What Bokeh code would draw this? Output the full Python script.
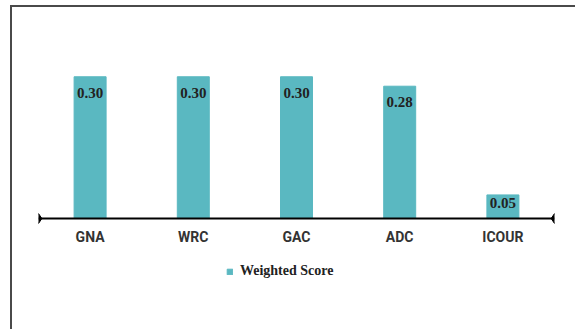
from bokeh.plotting import figure
from bokeh.models import ColumnDataSource, Range1d, FactorRange, Legend, LegendItem
from bokeh.core.properties import value
from bokeh.embed import file_html
from bokeh.resources import INLINE

categories = ["GNA", "WRC", "GAC", "ADC", "ICOUR"]
scores = [0.30, 0.30, 0.30, 0.28, 0.05]
labels = ["0.30", "0.30", "0.30", "0.28", "0.05"]
series_name = "Weighted Score"

BAR = "#5ab8c1"

src = ColumnDataSource(dict(
    cat=categories,
    score=scores,
    label=labels,
    off=[16 if s > 0.1 else 8 for s in scores],
))

p = figure(
    x_range=FactorRange(*categories, range_padding=0),
    y_range=Range1d(-0.1459, 0.40),
    width=565, height=324,
    min_border_left=26, min_border_right=23,
    min_border_top=22, min_border_bottom=44,
    output_backend="svg", toolbar_location=None,
    background_fill_color="white", border_fill_color="white",
)
p.outline_line_color = None
p.grid.visible = False
p.yaxis.visible = False
p.styles = {"margin-left": "12px", "margin-top": "7px",
            "box-shadow": "-2px -2px 0 0 #4a4a4a"}

bars = p.vbar(x="cat", top="score", width=0.31, source=src,
              fill_color=BAR, line_color=BAR)

p.text(x="cat", y="score", text="label", source=src, y_offset="off",
       text_align="center", text_baseline="middle",
       text_font=value("Liberation Serif"), text_font_style="bold",
       text_font_size="15px", text_color="#222222")

# baseline with diamond ends
p.segment(x0=[0], y0=[0], x1=[len(categories)], y1=[0],
          line_color="black", line_width=2)
p.scatter(x=[0, len(categories)], y=[0, 0], marker="diamond", size=10,
          fill_color="black", line_color="black")

ax = p.xaxis[0]
ax.fixed_location = 0
ax.axis_line_color = None
ax.major_tick_line_color = None
ax.minor_tick_line_color = None
ax.major_tick_in = 0
ax.major_tick_out = 0
ax.major_label_standoff = 10
ax.major_label_text_font = "Roboto"
ax.major_label_text_font_style = "bold"
ax.major_label_text_font_size = "14px"
ax.major_label_text_color = "#333333"

legend = Legend(items=[LegendItem(label=series_name, renderers=[bars])],
                location=(188, 8), orientation="horizontal",
                border_line_color=None, background_fill_alpha=0,
                glyph_width=7, glyph_height=7, label_standoff=7,
                label_text_font="Liberation Serif", label_text_font_style="bold",
                label_text_font_size="14px", label_text_color="#222222",
                padding=4, margin=0)
p.add_layout(legend, "center")

open("out.html", "w").write(file_html(p, INLINE))
